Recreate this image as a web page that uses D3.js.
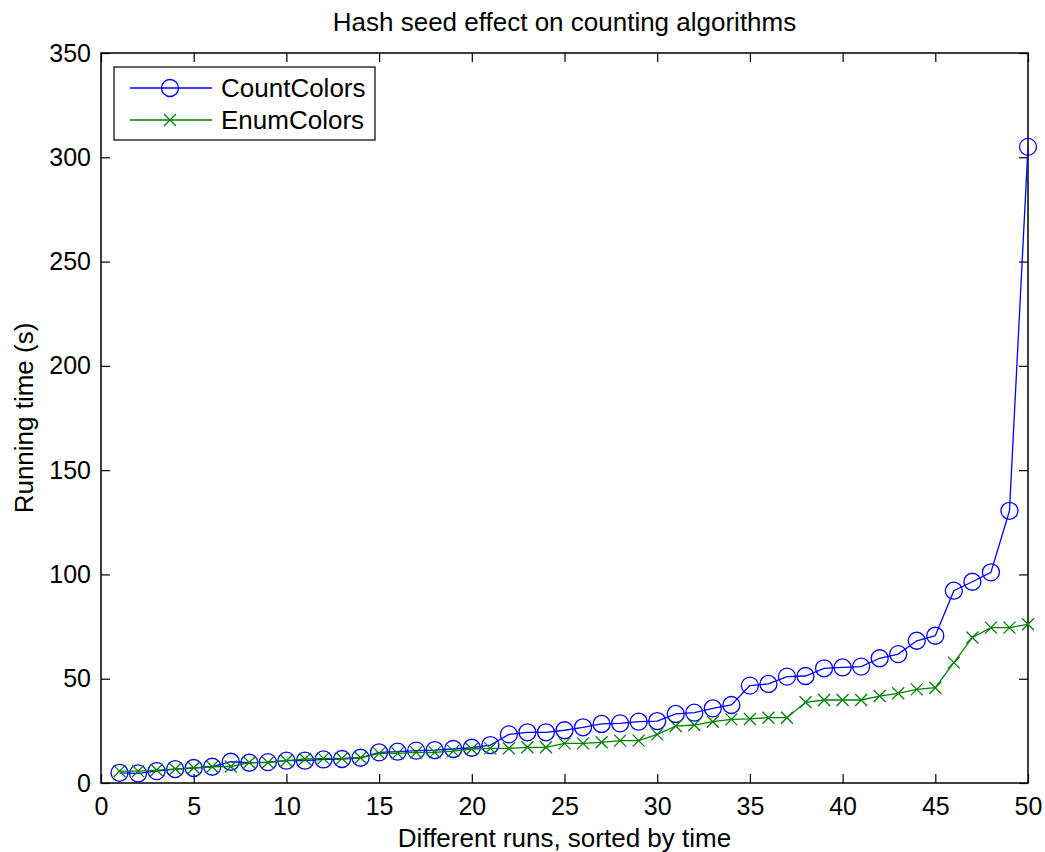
<!DOCTYPE html>
<html>
<head>
<meta charset="utf-8">
<script src="https://cdn.jsdelivr.net/npm/d3@7"></script>
<style>
body { margin: 0; background: #fff; }
text { font-family: "Liberation Sans", Arial, sans-serif; fill: #000; }
</style>
</head>
<body>
<svg width="1045" height="852"></svg>
<script>
var runs = d3.range(1, 51);

var countColors = [4.9, 4.6, 5.7, 6.7, 7.2, 7.8, 10.2, 9.7, 10, 10.7,
	10.7, 11.3, 11.5, 12.1, 14.7, 15, 15.5, 15.8, 16.3, 16.9,
	18.2, 23.3, 24.3, 24.3, 25.3, 26.7, 28.3, 28.6, 29.4, 29.7,
	33.1, 33.7, 35.8, 37.4, 46.7, 47.5, 51, 51.3, 55, 55.4,
	55.8, 59.8, 61.8, 68.2, 70.6, 92.2, 96.5, 101, 130.5, 305];

var enumColors = [5.7, 5.7, 6.2, 6.7, 7.3, 7.8, 7.9, 9.8, 9.8, 10.7,
	11.5, 11.8, 11.8, 12.1, 14.2, 14.2, 14.7, 14.7, 15.3, 16.3,
	16.6, 16.6, 17.1, 17.1, 19, 19, 19.5, 20.3, 20.3, 23.3,
	27.3, 27.8, 29.4, 30.5, 30.7, 31.3, 31.3, 38.7, 39.8, 39.8,
	39.8, 41.7, 43, 44.9, 45.7, 57.7, 69.8, 74.5, 74.5, 76.1];

var xTicks = d3.range(0, 51, 5);
var yTicks = d3.range(0, 351, 50);

var svg = d3.select("svg"),
	plotLeft = 101, plotRight = 1028, plotTop = 53, plotBottom = 783,
	tickLen = 9;

var x = d3.scaleLinear().domain([0, 50]).range([plotLeft, plotRight]);
var y = d3.scaleLinear().domain([0, 350]).range([plotBottom, plotTop]);

var series = [
	{name: "CountColors", values: countColors, color: "#0000ff", marker: "circle"},
	{name: "EnumColors", values: enumColors, color: "#008000", marker: "cross"}
];

// title and axis labels
svg.append("text")
	.attr("x", (plotLeft + plotRight) / 2).attr("y", 31)
	.attr("text-anchor", "middle")
	.style("font-size", "26px")
	.text("Hash seed effect on counting algorithms");

svg.append("text")
	.attr("x", (plotLeft + plotRight) / 2).attr("y", 847)
	.attr("text-anchor", "middle")
	.style("font-size", "26px")
	.text("Different runs, sorted by time");

svg.append("text")
	.attr("transform", "translate(33," + (plotTop + plotBottom) / 2 + ") rotate(-90)")
	.attr("text-anchor", "middle")
	.style("font-size", "26px")
	.text("Running time (s)");

// axes with inward ticks on all four sides
var axes = svg.append("g");

axes.append("g")
	.attr("transform", "translate(0," + plotBottom + ")")
	.call(d3.axisBottom(x).tickValues(xTicks).tickSizeInner(-tickLen).tickSizeOuter(0).tickPadding(14));
axes.append("g")
	.attr("transform", "translate(0," + plotTop + ")")
	.call(d3.axisTop(x).tickValues(xTicks).tickSizeInner(-tickLen).tickSizeOuter(0).tickFormat(""));
axes.append("g")
	.attr("transform", "translate(" + plotLeft + ",0)")
	.call(d3.axisLeft(y).tickValues(yTicks).tickSizeInner(-tickLen).tickSizeOuter(0).tickPadding(10));
axes.append("g")
	.attr("transform", "translate(" + plotRight + ",0)")
	.call(d3.axisRight(y).tickValues(yTicks).tickSizeInner(-tickLen).tickSizeOuter(0).tickFormat(""));

axes.selectAll(".domain").remove();
axes.selectAll(".tick line").attr("stroke", "#000").attr("stroke-width", 1.2);
axes.selectAll(".tick text")
	.style("font-size", "25px")
	.style("font-family", "'Liberation Sans', Arial, sans-serif");

svg.append("rect")
	.attr("x", plotLeft).attr("y", plotTop)
	.attr("width", plotRight - plotLeft).attr("height", plotBottom - plotTop)
	.attr("fill", "none").attr("stroke", "#000").attr("stroke-width", 1.5);

// lines and markers
var line = d3.line()
	.x(function(d, i) { return x(runs[i]); })
	.y(function(d) { return y(d); });

function drawMarker(g, type, color) {
	if (type == "circle") {
		g.append("circle").attr("r", 8.5)
			.attr("fill", "none").attr("stroke", color).attr("stroke-width", 1.3);
	} else {
		g.append("path").attr("d", "M-6,-6L6,6M-6,6L6,-6")
			.attr("fill", "none").attr("stroke", color).attr("stroke-width", 1.3);
	}
}

series.forEach(function(s) {
	svg.append("path")
		.attr("d", line(s.values))
		.attr("fill", "none")
		.attr("stroke", s.color)
		.attr("stroke-width", 1.3);

	svg.append("g").selectAll("g")
		.data(s.values)
		.enter().append("g")
		.attr("transform", function(d, i) { return "translate(" + x(runs[i]) + "," + y(d) + ")"; })
		.each(function() { drawMarker(d3.select(this), s.marker, s.color); });
});

// legend
var legend = svg.append("g");
legend.append("rect")
	.attr("x", 114).attr("y", 67)
	.attr("width", 261).attr("height", 73)
	.attr("fill", "#fff").attr("stroke", "#000").attr("stroke-width", 1.2);

series.forEach(function(s, i) {
	var ly = 88 + i * 32;
	legend.append("line")
		.attr("x1", 130).attr("x2", 212).attr("y1", ly).attr("y2", ly)
		.attr("stroke", s.color).attr("stroke-width", 1.3);
	var m = legend.append("g").attr("transform", "translate(170," + ly + ")");
	drawMarker(m, s.marker, s.color);
	legend.append("text")
		.attr("x", 221).attr("y", ly)
		.attr("dy", "0.36em")
		.style("font-size", "26px")
		.text(s.name);
});
</script>
</body>
</html>
